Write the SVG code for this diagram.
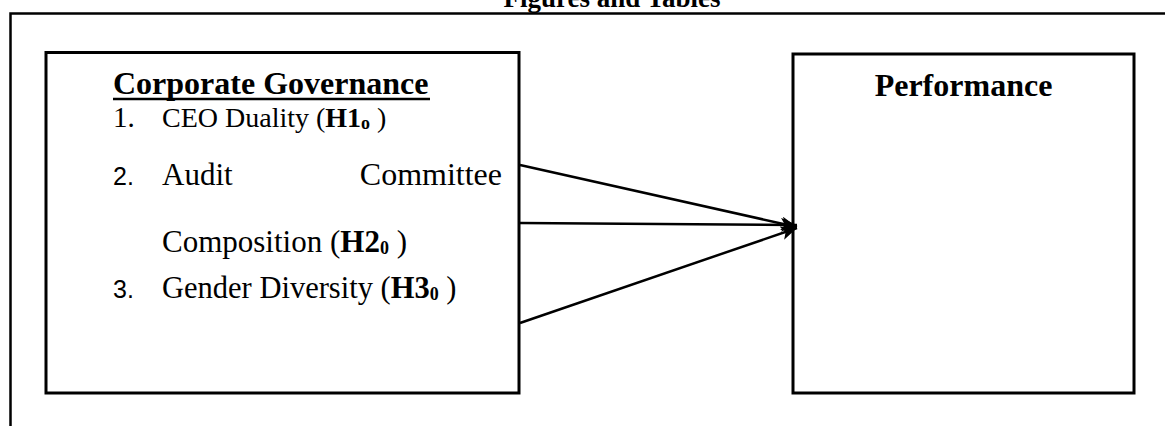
<svg xmlns="http://www.w3.org/2000/svg" width="1165" height="426" viewBox="0 0 1165 426">
<style>
.box{fill:#fff;stroke:#000;stroke-width:3}
.frame{fill:none;stroke:#000;stroke-width:2.5}
.conn{stroke:#000;stroke-width:2.5;fill:none}
.serif{font-family:"Liberation Serif","Times New Roman",serif;fill:#000}
.b{font-weight:bold}
.head{font-size:32px;font-weight:bold}
.item{font-size:31px}
.num{font-family:"Liberation Sans",Arial,sans-serif;font-size:25px;fill:#000}
.sub{font-size:18px;font-weight:bold}
</style>
<defs>
<marker id="ah" markerUnits="userSpaceOnUse" markerWidth="18" markerHeight="14" refX="16" refY="7" orient="auto">
<path d="M0,0 L16,7 L0,14 L4,7 z" fill="#000"/>
</marker>
</defs>
<rect width="1165" height="426" fill="#fff"/>
<g id="frame">
<path class="frame" d="M10.5,426 V13.5 H1165"/>
<text class="serif b" x="612" y="7" font-size="27" text-anchor="middle">Figures and Tables</text>
</g>
<g id="corporate-governance">
<rect class="box" x="46" y="52.5" width="473" height="340.5"/>
<text class="serif head" x="113" y="94">Corporate Governance</text>
<line x1="113" y1="99" x2="430" y2="99" stroke="#000" stroke-width="2.5"/>
<text class="serif" font-size="29" x="113" y="127">1.</text>
<text class="serif" font-size="28" x="162" y="127">CEO Duality (<tspan class="b">H1</tspan><tspan class="sub" dy="2">o</tspan><tspan dy="-2"> )</tspan></text>
<text class="num" x="113" y="185">2.</text>
<text class="serif item" x="162" y="185">Audit</text>
<text class="serif" font-size="32" x="502" y="185" text-anchor="end">Committee</text>
<text class="serif item" x="162" y="252">Composition (<tspan class="b">H2</tspan><tspan class="sub" dy="2">0</tspan><tspan dy="-2"> )</tspan></text>
<text class="num" x="113" y="298">3.</text>
<text class="serif" font-size="30.5" x="162" y="298">Gender Diversity (<tspan class="b">H3</tspan><tspan class="sub" dy="2">0</tspan><tspan dy="-2"> )</tspan></text>
</g>
<g id="performance">
<rect class="box" x="793" y="54" width="341" height="339"/>
<text class="serif head" x="963.5" y="96" text-anchor="middle">Performance</text>
</g>
<g id="connectors">
<line class="conn" x1="520" y1="165" x2="797" y2="227" marker-end="url(#ah)"/>
<line class="conn" x1="520" y1="223" x2="797" y2="225" marker-end="url(#ah)"/>
<line class="conn" x1="520" y1="323" x2="797" y2="228" marker-end="url(#ah)"/>
</g>
</svg>
